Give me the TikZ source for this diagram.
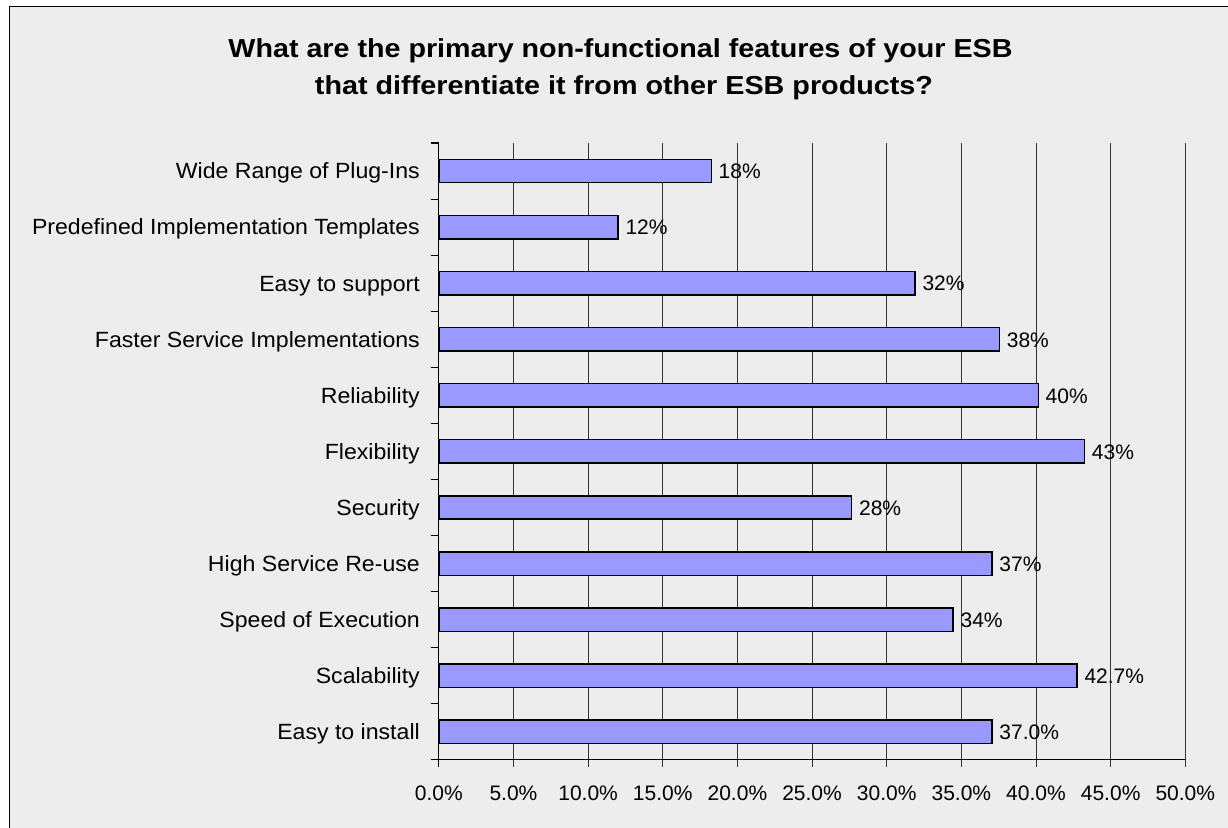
\documentclass[tikz,border=0pt]{standalone}
\usepackage{fontspec}
\setmainfont{Liberation Sans}
\definecolor{chartbg}{RGB}{237,237,237}
\definecolor{barfill}{RGB}{153,153,255}
\tikzset{
  frameline/.style={draw=black, line width=1.4pt},
  gridline/.style={draw=black!80, line width=1pt},
  axisline/.style={draw=black, line width=1.1pt},
  databar/.style={draw=black, fill=barfill, line width=1.5pt, inner sep=0pt,
    anchor=west, minimum height=23.4pt},
  catlabel/.style={anchor=base east, inner sep=0pt, font=\fontsize{22}{26}\selectfont},
  vallabel/.style={anchor=base west, inner sep=0pt, font=\fontsize{21}{25}\selectfont},
  ticklabel/.style={anchor=base, inner sep=0pt, font=\fontsize{21}{25}\selectfont},
  titleline/.style={anchor=base, inner sep=0pt, font=\bfseries\fontsize{26}{30}\selectfont},
}
\begin{document}
\begin{tikzpicture}[x=1pt, y=-1pt]
  % canvas and chart frame
  \useasboundingbox (0,0) rectangle (1228,827);
  \fill[white] (0,0) rectangle (1228,827);
  \fill[chartbg] (9.5,6.5) rectangle (1230,830);
  \draw[frameline] (9.5,830) -- (9.5,6.5) -- (1230,6.5);

  % title
  \node[titleline] (title1) at (620.5,57.7)
    {\resizebox{784pt}{\height}{What are the primary non-functional features of your ESB}};
  \node[titleline] (title2) at (624,94)
    {\resizebox{618pt}{\height}{that differentiate it from other ESB products?}};

  % plot geometry: 0% at x=438.8, 1% = 14.93, categories 56.08 apart from y=143
  \def\xz{438.8}
  \def\pct{14.93}

  % vertical gridlines with their ticks below the axis
  \foreach \k in {1,...,10}
    \draw[gridline] ({\xz+5*\pct*\k},143) -- ({\xz+5*\pct*\k},767);

  % bars, category names and value labels
  \foreach \v/\cat/\txt [count=\i from 0] in {
      18.2/Wide Range of Plug-Ins/18\%,
      11.96/Predefined Implementation Templates/12\%,
      31.85/Easy to support/32\%,
      37.5/Faster Service Implementations/38\%,
      40.1/Reliability/40\%,
      43.2/Flexibility/43\%,
      27.6/Security/28\%,
      37.0/High Service Re-use/37\%,
      34.4/Speed of Execution/34\%,
      42.7/Scalability/42.7\%,
      37.0/Easy to install/37.0\%} {
    \node[databar, minimum width={\v*\pct*1pt}] (bar\i) at (\xz,{171+56.08*\i}) {};
    \node[catlabel] (cat\i) at (420,{171+56.08*\i+7.9}) {\scalebox{1.05}[1]{\cat}};
    \node[vallabel] (val\i) at ([xshift=6.5pt,yshift=-7.8pt]bar\i.east) {\txt};
  }

  % axes
  \draw[axisline] (\xz,142) -- (\xz,767);
  \draw[axisline] (431,759.8) -- ({\xz+50*\pct},759.8);
  \foreach \k in {0,...,10}
    \draw[axisline] (431,{143+56.08*\k}) -- (\xz,{143+56.08*\k});

  % x tick labels
  \foreach \k in {0,...,10} {
    \pgfmathtruncatemacro\pc{5*\k}
    \node[ticklabel] (tick\k) at ({\xz+5*\pct*\k},800.7) {\pc.0\%};
  }
\end{tikzpicture}
\end{document}
